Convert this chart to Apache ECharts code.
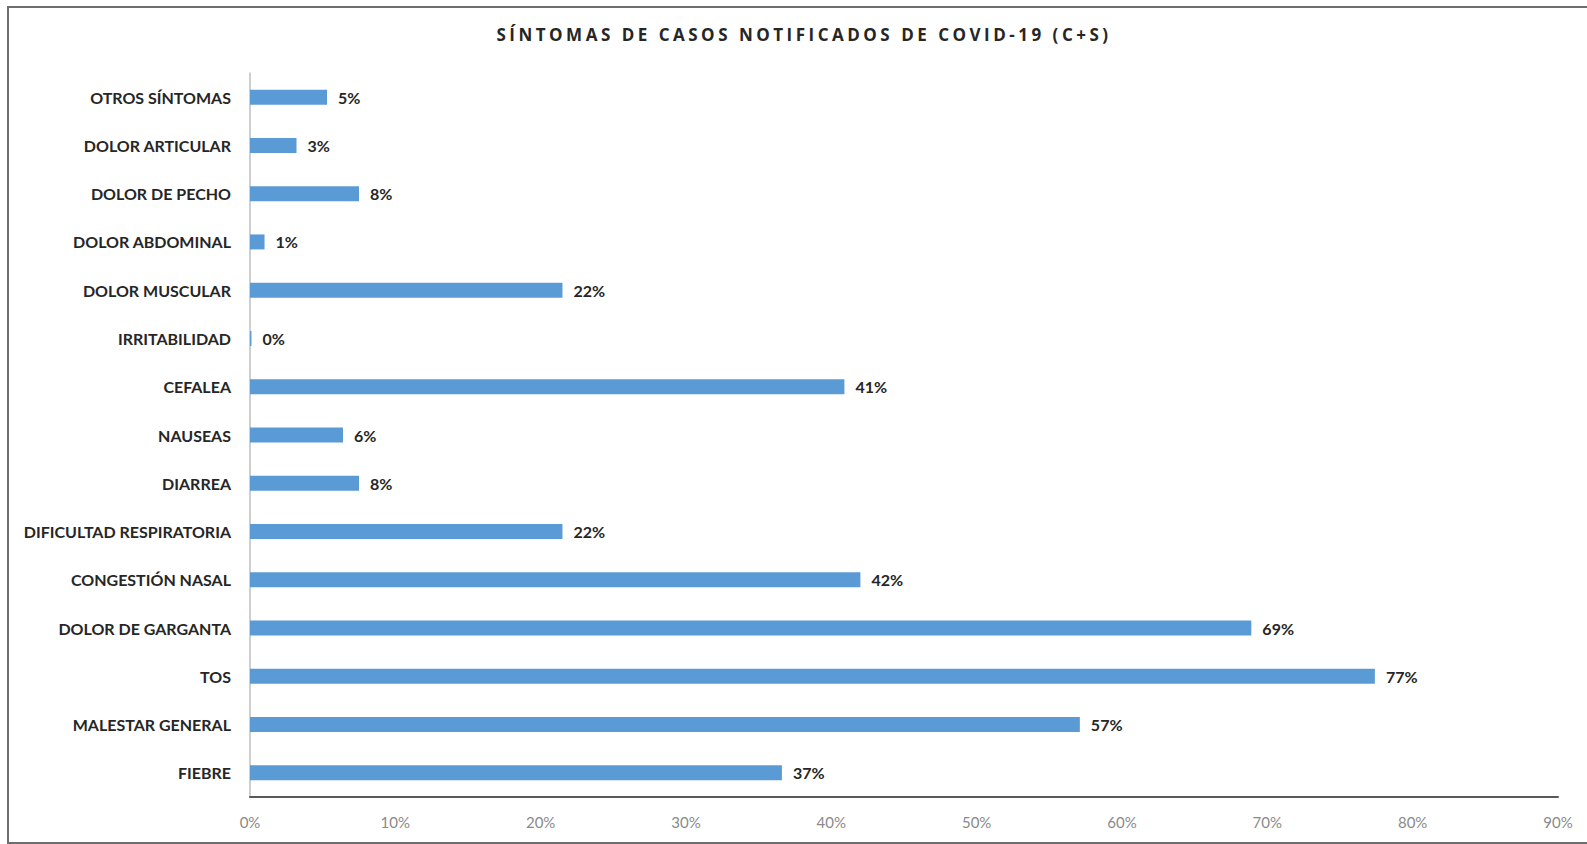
<!DOCTYPE html>
<html><head><meta charset="utf-8">
<script src="https://cdn.jsdelivr.net/npm/echarts@6/dist/echarts.min.js"></script>
<style>html,body{margin:0;padding:0;background:#fff}#c{width:1587px;height:844px}</style>
</head><body><div id="c"></div>
<script>
const titleText = 'SÍNTOMAS DE CASOS NOTIFICADOS DE COVID-19 (C+S)';
const categories = ['FIEBRE','MALESTAR GENERAL','TOS','DOLOR DE GARGANTA','CONGESTIÓN NASAL','DIFICULTAD RESPIRATORIA','DIARREA','NAUSEAS','CEFALEA','IRRITABILIDAD','DOLOR MUSCULAR','DOLOR ABDOMINAL','DOLOR DE PECHO','DOLOR ARTICULAR','OTROS SÍNTOMAS'];
const values = [36.6, 57.1, 77.4, 68.9, 42.0, 21.5, 7.5, 6.4, 40.9, 0.1, 21.5, 1.0, 7.5, 3.2, 5.3];
const axisMin = 0, axisMax = 90, axisStep = 10;

const chart = echarts.init(document.getElementById('c'), null, {renderer:'svg'});
chart.setOption({
  animation:false,
  backgroundColor:'#fff',
  title:{
    text: titleText,
    left: 799, top: 21, textAlign:'center',
    textStyle:{fontFamily:'Open Sans', fontWeight:'bold', fontSize:17, color:'#262626'}
  },
  graphic:[{type:'rect', shape:{x:8,y:7,width:1600,height:836}, style:{fill:'none', stroke:'#6e6e6e', lineWidth:2}, silent:true}],
  grid:{left:250, right:29, top:73, bottom:47},
  xAxis:{
    type:'value', min:axisMin, max:axisMax, interval:axisStep,
    splitLine:{show:false},
    axisLine:{show:true, lineStyle:{color:'#595959', width:2}},
    axisTick:{show:false},
    axisLabel:{formatter: v => v + '%', color:'#8a8a8a', fontSize:15, fontFamily:'Lato', margin:17}
  },
  yAxis:{
    type:'category', data:categories,
    axisLine:{show:true, lineStyle:{color:'#bfbfbf', width:1.5}},
    axisTick:{show:false},
    axisLabel:{color:'#262626', fontWeight:'bold', fontSize:16, fontFamily:'Lato', margin:19}
  },
  series:[{
    type:'bar', data:values, barWidth:15,
    itemStyle:{color:'#5B9BD5'},
    label:{show:true, position:'right', distance:11, formatter: p => Math.round(p.value) + '%',
      color:'#262626', fontWeight:'bold', fontSize:16, fontFamily:'Lato'}
  }]
});
document.querySelectorAll('#c svg text').forEach(t => {
  if (t.textContent === titleText) {
    t.style.letterSpacing = '3.5px';
  }
});
</script></body></html>
